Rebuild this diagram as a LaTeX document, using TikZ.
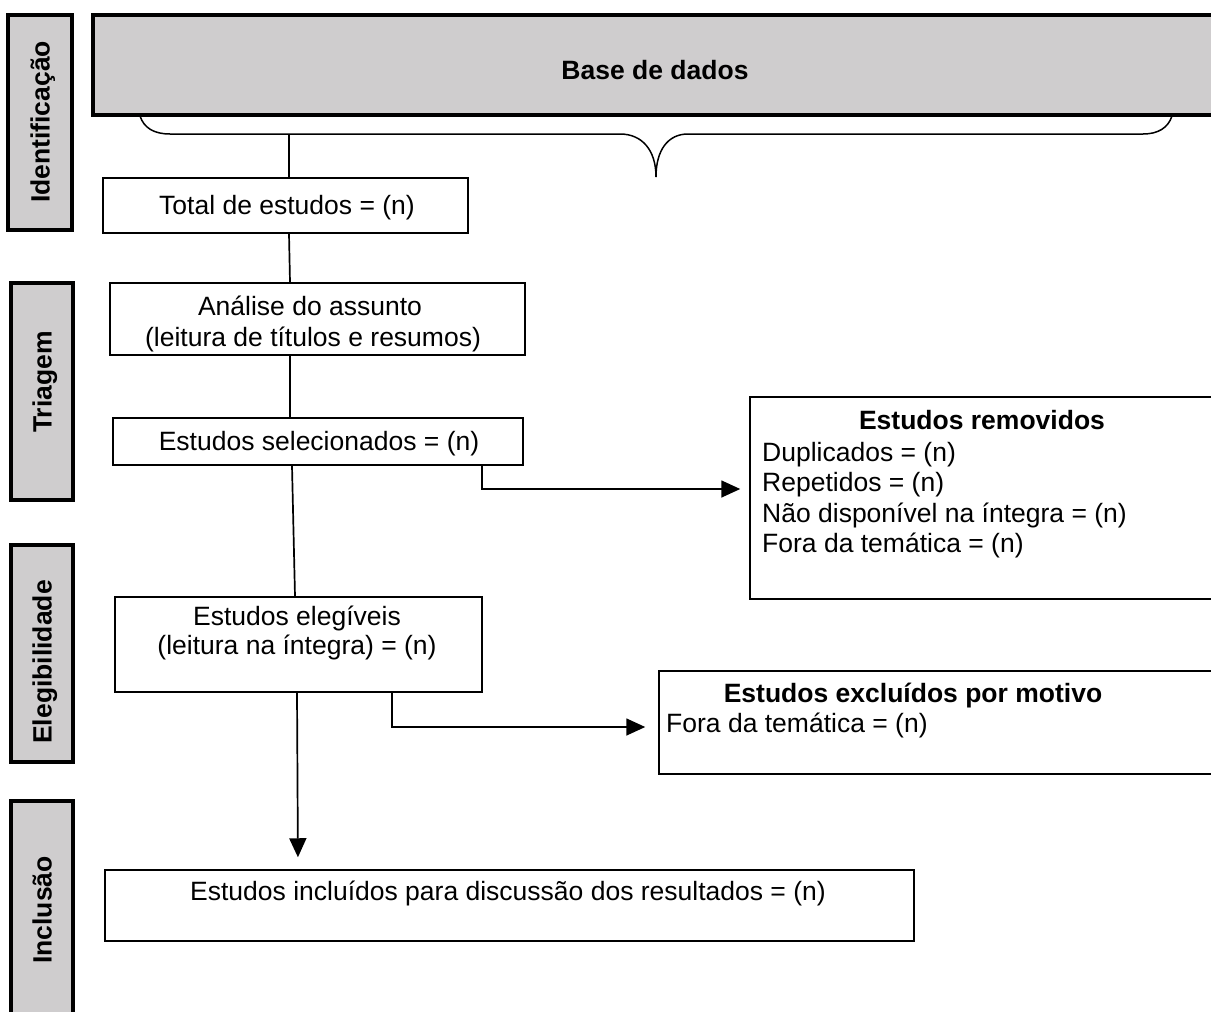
\documentclass[tikz,border=0pt]{standalone}
\usepackage{fontspec}
\setmainfont{Liberation Sans}
\usetikzlibrary{arrows.meta}
\definecolor{phasegray}{RGB}{207,205,206}
\begin{document}
\begin{tikzpicture}[x=1pt,y=-1pt,
  phase/.style={draw, line width=3.3pt, fill=phasegray, inner sep=0pt},
  box/.style={draw, line width=1.5pt, fill=white, inner sep=0pt},
  txt/.style={inner sep=0pt, font=\fontsize{26.5}{30}\selectfont, text height=19pt, text depth=0pt},
  btxt/.style={txt, font=\fontsize{26.5}{30}\selectfont\bfseries},
  vtxt/.style={btxt, rotate=90},
  conn/.style={line width=1.7pt},
  arr/.style={conn, -{Triangle[length=19pt,width=17pt]}}
]
\useasboundingbox (0,0) rectangle (1211,1012);
\clip (0,0) rectangle (1211,1012);

% phase labels
\node[phase, minimum width=64, minimum height=215] (idbox) at (40,122.5) {};
\node[vtxt] (idlab) at (40,122) {Identificação};
\node[phase, minimum width=62, minimum height=217] (tribox) at (42,391.5) {};
\node[vtxt] (trilab) at (42,382) {Triagem};
\node[phase, minimum width=62, minimum height=217] (elebox) at (42,653.5) {};
\node[vtxt] (elelab) at (42,662) {Elegibilidade};
\node[phase, minimum width=62, minimum height=240] (incbox) at (42,921) {};
\node[vtxt] (inclab) at (42,910) {Inclusão};

% base de dados
\node[phase, line width=4pt, minimum width=1147, minimum height=100] (base) at (666.5,65) {};
\node[btxt] (basetxt) at (655,70) {Base de dados};

% brace
\draw[line width=1.5pt] (140,116) .. controls (144,128) and (154,134) .. (170,134)
  -- (620,134) .. controls (642,134) and (656,150) .. (656,177);
\draw[line width=1.5pt] (1172,116) .. controls (1168,128) and (1158,134) .. (1143,134)
  -- (688,134) .. controls (668,134) and (656,150) .. (656,177);
\coordinate (bracept) at (289,134);

% boxes
\node[box, minimum width=365, minimum height=55] (total) at (285.5,205.5) {};
\node[txt] (ttotal) at (287,205) {Total de estudos = (n)};

\node[box, minimum width=415, minimum height=72] (analise) at (317.5,319) {};
\node[txt] (tanal1) at (310,306) {Análise do assunto};
\node[txt] (tanal2) at (313,337) {(leitura de títulos e resumos)};

\node[box, minimum width=410, minimum height=47] (selec) at (318,441.5) {};
\node[txt] (tselec) at (319,441) {Estudos selecionados = (n)};

\node[box, minimum width=367, minimum height=95] (eleg) at (298.5,644.5) {};
\node[txt] (teleg1) at (297,616) {Estudos elegíveis};
\node[txt] (teleg2) at (297,645) {(leitura na íntegra) = (n)};

\node[box, minimum width=809, minimum height=71] (incl) at (509.5,905.5) {};
\node[txt] (tincl) at (508,891) {Estudos incluídos para discussão dos resultados = (n)};

\node[box, minimum width=480, minimum height=202] (remov) at (990,498) {};
\node[btxt] (tremov) at (982,420) {Estudos removidos};
\node[txt, anchor=west] (trem1) at (762,452) {Duplicados = (n)};
\node[txt, anchor=west] (trem2) at (762,482) {Repetidos = (n)};
\node[txt, anchor=west] (trem3) at (762,513) {Não disponível na íntegra = (n)};
\node[txt, anchor=west] (trem4) at (762,543) {Fora da temática = (n)};

\node[box, minimum width=571, minimum height=103] (excl) at (944.5,722.5) {};
\node[btxt] (texcl) at (913,693) {Estudos excluídos por motivo};
\node[txt, anchor=west] (texc1) at (666,723) {Fora da temática = (n)};

% connectors
\draw[conn] (bracept) -- (bracept |- total.north);
\draw[conn] (total.south -| bracept) -- (analise.north -| 290,0);
\draw[conn] (analise.south -| 290,0) -- (selec.north -| 290,0);
\draw[conn] (selec.south -| 292,0) -- (eleg.north -| 295,0);
\draw[arr, shorten >=12pt] (eleg.south -| 297,0) -- (incl.north -| 298,0);
\draw[arr, shorten >=9pt] (selec.south -| 482,0) |- (remov.west |- 0,489);
\draw[arr, shorten >=13pt] (eleg.south -| 392,0) |- (excl.west |- 0,727);
\end{tikzpicture}
\end{document}
